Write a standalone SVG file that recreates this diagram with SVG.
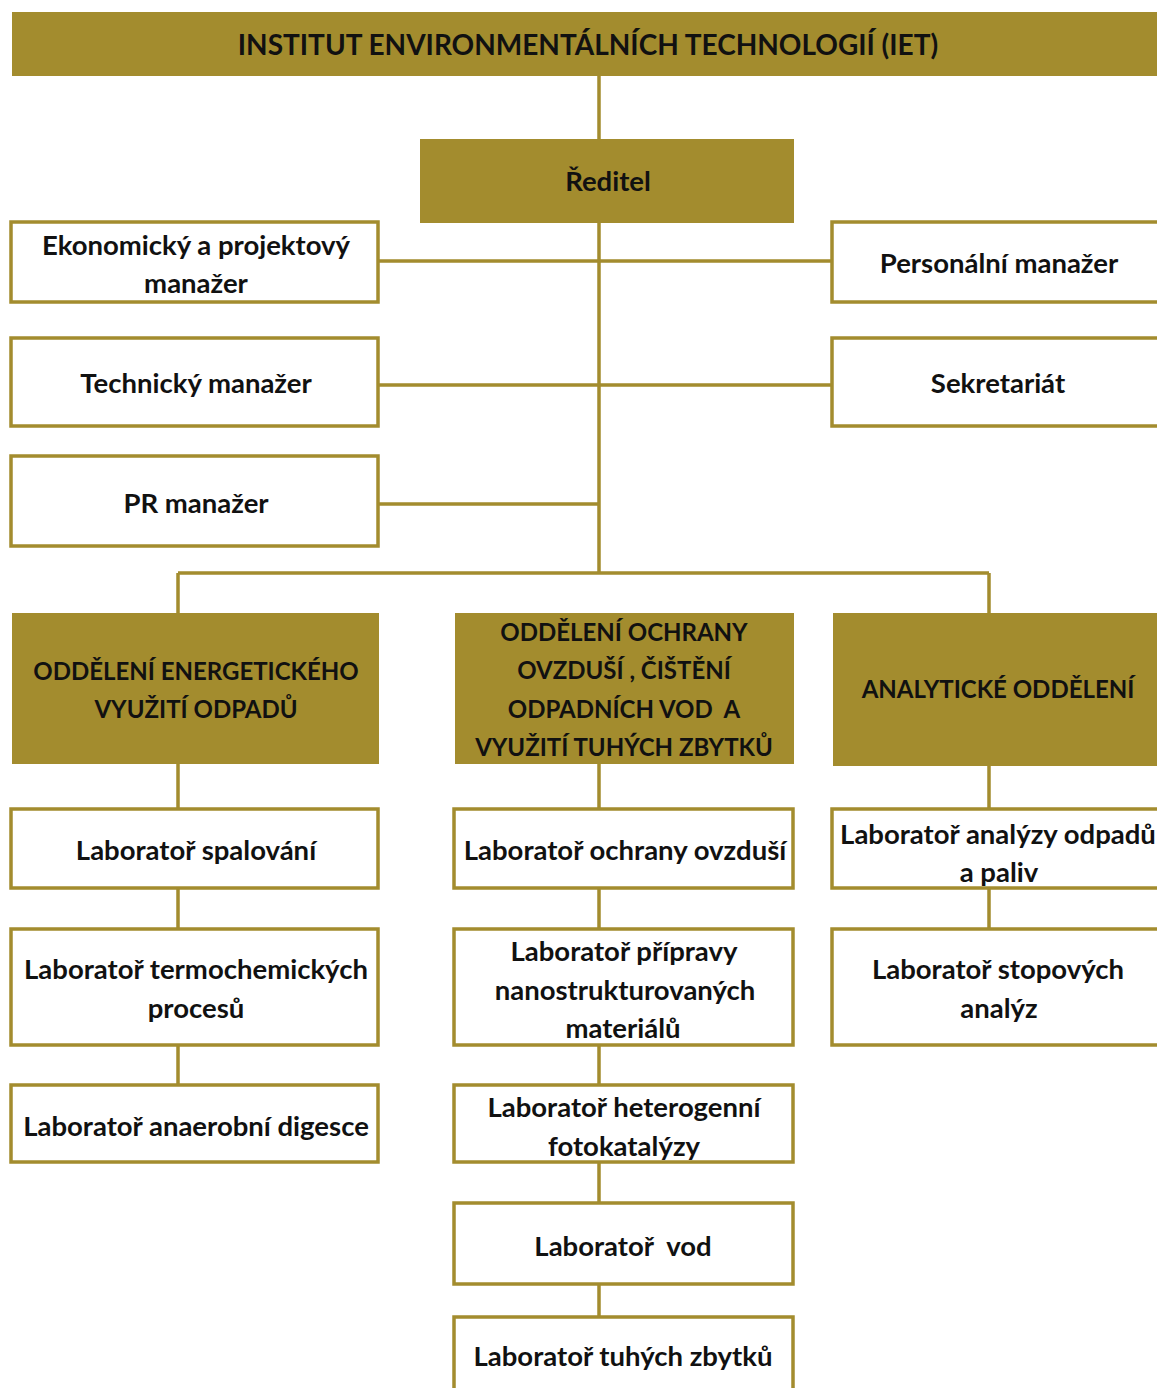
<svg xmlns="http://www.w3.org/2000/svg" width="1157" height="1388" viewBox="0 0 1157 1388">
<style>
.g{fill:#A38C2E;stroke:none}
.w{fill:#ffffff;stroke:#A38C2E;stroke-width:3.5}
.c{fill:none;stroke:#A38C2E;stroke-width:3.5}
text{font-family:Lato,"Noto Sans",sans-serif;font-weight:bold;font-size:27.5px;fill:#111;text-anchor:middle;dominant-baseline:central}
.u{font-size:24px}
.t{font-size:28px}
</style>
<rect width="1157" height="1388" fill="#fff"/>
<g id="connectors">
<path class="c" d="M599 76V139M599 223V573M378 261H832M378 385H832M378 504H599M178 573H989M178 573V613M989 573V613"/>
<path class="c" d="M178 764V809M178 888V929M178 1045V1085"/>
<path class="c" d="M599 764V809M599 888V929M599 1045V1085M599 1162V1203M599 1284V1317"/>
<path class="c" d="M989 766V809M989 888V929"/>
</g>
<g id="iet"><rect class="g" x="12" y="12" width="1150" height="64"/><text x="588" y="44" class="t">INSTITUT ENVIRONMENTÁLNÍCH TECHNOLOGIÍ (IET)</text></g>
<g id="reditel"><rect class="g" x="420" y="139" width="374" height="84"/><text x="608" y="180">Ředitel</text></g>
<g id="ekonom"><rect class="w" x="11" y="222" width="367" height="80"/><text x="196" y="244">Ekonomický a projektový</text><text x="196" y="282">manažer</text></g>
<g id="personal"><rect class="w" x="832" y="222" width="340" height="80"/><text x="999" y="262">Personální manažer</text></g>
<g id="technik"><rect class="w" x="11" y="338" width="367" height="88"/><text x="196" y="382">Technický manažer</text></g>
<g id="sekret"><rect class="w" x="832" y="338" width="340" height="88"/><text x="998" y="382">Sekretariát</text></g>
<g id="pr"><rect class="w" x="11" y="456" width="367" height="90"/><text x="196" y="502">PR manažer</text></g>
<g id="odd1"><rect class="g" x="12" y="613" width="367" height="151"/><text x="196" y="670" class="u">ODDĚLENÍ ENERGETICKÉHO</text><text x="196" y="708" class="u">VYUŽITÍ ODPADŮ</text></g>
<g id="odd2"><rect class="g" x="455" y="613" width="339" height="151"/><text x="624" y="631" class="u">ODDĚLENÍ OCHRANY</text><text x="624" y="669" class="u">OVZDUŠÍ , ČIŠTĚNÍ</text><text x="624" y="708" class="u" xml:space="preserve">ODPADNÍCH VOD  A</text><text x="624" y="746" class="u">VYUŽITÍ TUHÝCH ZBYTKŮ</text></g>
<g id="odd3"><rect class="g" x="833" y="613" width="330" height="153"/><text x="998" y="688" class="u">ANALYTICKÉ ODDĚLENÍ</text></g>
<g id="l1"><rect class="w" x="11" y="809" width="367" height="79"/><text x="196" y="849">Laboratoř spalování</text></g>
<g id="l2"><rect class="w" x="11" y="929" width="367" height="116"/><text x="196" y="968">Laboratoř termochemických</text><text x="196" y="1007">procesů</text></g>
<g id="l3"><rect class="w" x="11" y="1085" width="367" height="77"/><text x="196" y="1125">Laboratoř anaerobní digesce</text></g>
<g id="m1"><rect class="w" x="454" y="809" width="339" height="79"/><text x="625" y="849">Laboratoř ochrany ovzduší</text></g>
<g id="m2"><rect class="w" x="454" y="929" width="339" height="116"/><text x="624" y="950">Laboratoř přípravy</text><text x="625" y="989">nanostrukturovaných</text><text x="623" y="1027">materiálů</text></g>
<g id="m3"><rect class="w" x="454" y="1085" width="339" height="77"/><text x="624" y="1106">Laboratoř heterogenní</text><text x="624" y="1145">fotokatalýzy</text></g>
<g id="m4"><rect class="w" x="454" y="1203" width="339" height="81"/><text x="623" y="1245" xml:space="preserve">Laboratoř  vod</text></g>
<g id="m5"><rect class="w" x="454" y="1317" width="339" height="90"/><text x="623" y="1355">Laboratoř tuhých zbytků</text></g>
<g id="r1"><rect class="w" x="832" y="809" width="340" height="79"/><text x="998" y="833">Laboratoř analýzy odpadů</text><text x="999" y="871">a paliv</text></g>
<g id="r2"><rect class="w" x="832" y="929" width="340" height="116"/><text x="998" y="968">Laboratoř stopových</text><text x="999" y="1007">analýz</text></g>
</svg>
